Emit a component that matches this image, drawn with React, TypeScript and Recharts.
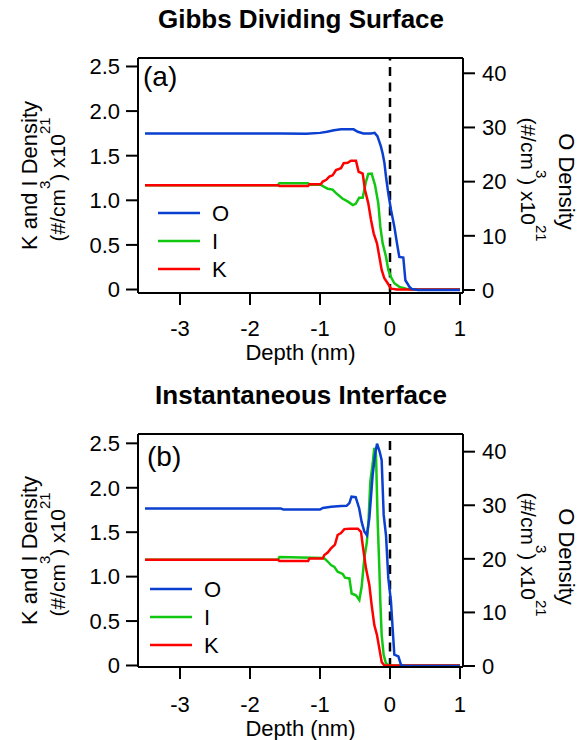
import React from 'react';
import { LineChart, Line, XAxis, YAxis, ReferenceLine, Legend } from 'recharts';

// (a) Gibbs dividing surface — O on right axis, I and K on left axis
const gibbsDepthO = [-3.5, -1.55, -1.2, -1.0, -0.9, -0.8, -0.7, -0.52, -0.46, -0.38, -0.27, -0.22, -0.18, -0.153, -0.13, -0.105, -0.08, -0.057, -0.024, 0.014, 0.062, 0.1, 0.133, 0.19, 0.22, 0.276, 0.31, 0.4, 1.0];
const gibbsO = [28.9, 28.9, 28.85, 29.0, 29.2, 29.5, 29.65, 29.65, 29.2, 28.9, 28.9, 29.0, 28.4, 27.4, 26.5, 25.2, 23.5, 20.9, 17.8, 14.8, 11.7, 8.6, 6.1, 6.0, 1.8, 0.6, 0.2, 0, 0];

const gibbsDepthI = [-3.5, -1.6, -1.58, -1.17, -1.15, -0.99, -0.94, -0.89, -0.82, -0.77, -0.68, -0.6, -0.53, -0.49, -0.44, -0.39, -0.343, -0.31, -0.262, -0.214, -0.167, -0.138, -0.105, -0.057, -0.024, 0.014, 0.062, 0.133, 0.23, 0.3, 1.0];
const gibbsI = [1.17, 1.17, 1.19, 1.19, 1.175, 1.175, 1.15, 1.13, 1.12, 1.08, 1.02, 0.985, 0.947, 0.96, 1.03, 1.03, 1.21, 1.295, 1.3, 1.17, 0.966, 0.704, 0.518, 0.368, 0.219, 0.14, 0.07, 0.03, 0.01, 0, 0];

const gibbsDepthK = [-3.5, -1.6, -1.58, -1.17, -1.15, -0.99, -0.96, -0.91, -0.867, -0.82, -0.771, -0.7, -0.662, -0.605, -0.557, -0.486, -0.448, -0.39, -0.357, -0.31, -0.271, -0.233, -0.186, -0.152, -0.119, -0.081, -0.033, 0.014, 0.1, 1.0];
const gibbsK = [1.17, 1.17, 1.16, 1.16, 1.18, 1.18, 1.21, 1.23, 1.265, 1.28, 1.34, 1.36, 1.415, 1.42, 1.444, 1.444, 1.32, 1.3, 1.115, 0.966, 0.78, 0.63, 0.518, 0.368, 0.219, 0.126, 0.07, 0.01, 0, 0];

// (b) instantaneous interface
const instDepthO = [-3.5, -1.56, -1.52, -1.0, -0.96, -0.84, -0.7, -0.62, -0.58, -0.55, -0.49, -0.44, -0.405, -0.367, -0.33, -0.295, -0.271, -0.248, -0.214, -0.185, -0.148, -0.119, -0.09, -0.057, -0.024, 0.014, 0.038, 0.062, 0.12, 0.157, 0.2, 1.0];
const instO = [29.4, 29.4, 29.2, 29.2, 29.5, 29.7, 29.85, 29.9, 30.4, 31.6, 31.5, 29.4, 26.9, 25.1, 24.4, 27.6, 31.6, 35.6, 39.4, 41.5, 40.0, 38.4, 28.2, 24.4, 16.4, 12.0, 7.0, 2.1, 1.8, 0.2, 0, 0];

const instDepthI = [-3.5, -1.6, -1.58, -0.96, -0.93, -0.89, -0.843, -0.795, -0.748, -0.676, -0.643, -0.58, -0.548, -0.486, -0.438, -0.405, -0.367, -0.33, -0.305, -0.281, -0.248, -0.224, -0.2, -0.176, -0.152, -0.138, -0.119, -0.09, -0.057, -0.02, 1.0];
const instI = [1.19, 1.19, 1.22, 1.21, 1.2, 1.17, 1.13, 1.11, 1.055, 1.03, 0.988, 0.98, 0.81, 0.79, 0.737, 0.886, 1.206, 1.39, 1.655, 2.07, 2.27, 2.45, 2.37, 1.62, 1.09, 0.72, 0.343, 0.118, 0.025, 0, 0];

const instDepthK = [-3.5, -1.6, -1.58, -1.17, -1.15, -0.96, -0.938, -0.89, -0.843, -0.786, -0.748, -0.7, -0.652, -0.58, -0.46, -0.414, -0.39, -0.343, -0.295, -0.262, -0.224, -0.186, -0.152, -0.119, -0.08, 1.0];
const instK = [1.19, 1.19, 1.175, 1.175, 1.205, 1.205, 1.243, 1.27, 1.318, 1.36, 1.468, 1.49, 1.535, 1.54, 1.54, 1.505, 1.355, 1.093, 0.905, 0.68, 0.455, 0.343, 0.19, 0.04, 0, 0];

const depthTicks = [-3, -2, -1, 0, 1];
const kiTicks = [0, 0.5, 1, 1.5, 2, 2.5];
const oTicks = [0, 10, 20, 30, 40];
const legendNames = ['O', 'I', 'K'];
const legendColors = ['#0a3fd0', '#11c811', '#ff0000'];

const FONT = '"Liberation Sans", Arial, Helvetica, sans-serif';
const W = 579;
const PLOT_TOP = 58;
const X_DOMAIN: [number, number] = [-3.6, 1.043];

const toPoints = (xs: number[], ys: number[]) => xs.map((x, i) => ({ depth: x, value: ys[i] }));

const axisStroke = { stroke: '#000', strokeWidth: 2 };

const LegendBox = () => (
  <svg width={100} height={90}>
    {legendNames.map((name, i) => (
      <g key={name}>
        <line x1={8} x2={50} y1={17 + i * 28} y2={17 + i * 28} stroke={legendColors[i]} strokeWidth={2.5} />
        <text x={62} y={17 + i * 28 + 8} fontSize={22} fill="#000" fontFamily={FONT}>{name}</text>
      </g>
    ))}
  </svg>
);

interface PanelProps {
  top: number;
  height: number;
  plotBottom: number;
  leftDomain: [number, number];
  rightDomain: [number, number];
  dataO: { depth: number; value: number }[];
  dataI: { depth: number; value: number }[];
  dataK: { depth: number; value: number }[];
  legendLeft: number;
  tickGap: number;
}

const DensityPanel: React.FC<PanelProps> = ({
  top, height, plotBottom, leftDomain, rightDomain, dataO, dataI, dataK, legendLeft, tickGap,
}) => {
  const mid = (PLOT_TOP + plotBottom) / 2;

  const leftLabel = () => (
    <g>
      <text x={37} y={mid} transform={`rotate(-90 37 ${mid})`} textAnchor="middle" fontSize={22} fill="#000">
        K and I Density
      </text>
      <text x={65} y={mid + 4} transform={`rotate(-90 65 ${mid + 4})`} textAnchor="middle" fontSize={21} fill="#000">
        (#/cm<tspan dy={-15} fontSize={15}>3</tspan><tspan dy={15}>) x10</tspan><tspan dy={-15} fontSize={15}>21</tspan>
      </text>
    </g>
  );

  const rightLabel = () => (
    <g>
      <text x={559} y={mid + 6} transform={`rotate(90 559 ${mid + 6})`} textAnchor="middle" fontSize={22} fill="#000">
        O Density
      </text>
      <text x={521} y={mid + 4} transform={`rotate(90 521 ${mid + 4})`} textAnchor="middle" fontSize={21} fill="#000">
        (#/cm<tspan dy={-15} fontSize={15}>3</tspan><tspan dy={15}>) x10</tspan><tspan dy={-15} fontSize={15}>21</tspan>
      </text>
    </g>
  );

  const depthLabel = () => (
    <text x={300.5} y={360} textAnchor="middle" fontSize={22} fill="#000">Depth (nm)</text>
  );

  return (
    <div style={{ position: 'absolute', left: 0, top }}>
      <LineChart
        width={W}
        height={height}
        margin={{ top: PLOT_TOP - 20, right: 46, bottom: height - plotBottom - 60, left: 68 }}
      >
        <XAxis
          dataKey="depth"
          type="number"
          domain={X_DOMAIN}
          ticks={depthTicks}
          allowDataOverflow
          height={60}
          tickSize={12}
          tickMargin={tickGap}
          axisLine={axisStroke}
          tickLine={axisStroke}
          tick={{ fill: '#000', fontSize: 22 }}
          label={{ content: depthLabel }}
        />
        <XAxis
          xAxisId="top"
          orientation="top"
          type="number"
          domain={X_DOMAIN}
          ticks={depthTicks}
          allowDataOverflow
          height={20}
          tickSize={12}
          axisLine={axisStroke}
          tickLine={axisStroke}
          tick={false}
        />
        <YAxis
          yAxisId="left"
          type="number"
          domain={leftDomain}
          ticks={kiTicks}
          allowDataOverflow
          width={70}
          tickSize={12}
          tickMargin={6}
          axisLine={axisStroke}
          tickLine={axisStroke}
          tick={{ fill: '#000', fontSize: 22 }}
          tickFormatter={(v: number) => (v === 0 ? '0' : v.toFixed(1))}
          label={{ content: leftLabel }}
        />
        <YAxis
          yAxisId="right"
          orientation="right"
          type="number"
          domain={rightDomain}
          ticks={oTicks}
          allowDataOverflow
          width={70}
          tickSize={12}
          tickMargin={7}
          axisLine={axisStroke}
          tickLine={axisStroke}
          tick={{ fill: '#000', fontSize: 22 }}
          label={{ content: rightLabel }}
        />
        <ReferenceLine x={0} yAxisId="left" stroke="#000" strokeWidth={2.5} strokeDasharray="9 6.5" />
        <Line data={dataI} dataKey="value" yAxisId="left" type="linear" stroke={legendColors[1]} strokeWidth={2.5} dot={false} activeDot={false} isAnimationActive={false} />
        <Line data={dataK} dataKey="value" yAxisId="left" type="linear" stroke={legendColors[2]} strokeWidth={2.5} dot={false} activeDot={false} isAnimationActive={false} />
        <Line data={dataO} dataKey="value" yAxisId="right" type="linear" stroke={legendColors[0]} strokeWidth={2.5} dot={false} activeDot={false} isAnimationActive={false} />
        <Legend
          layout="vertical"
          align="center"
          verticalAlign="middle"
          content={() => <LegendBox />}
          wrapperStyle={{ left: legendLeft, top: 196, width: 100, height: 90 }}
        />
      </LineChart>
    </div>
  );
};

export default function App() {
  return (
    <div style={{ position: 'absolute', left: 0, top: 0, width: W, height: 740, background: '#fff', fontFamily: FONT }}>
      <DensityPanel
        top={0}
        height={372}
        plotBottom={293}
        leftDomain={[-0.039, 2.595]}
        rightDomain={[-0.554, 42.82]}
        dataO={toPoints(gibbsDepthO, gibbsO)}
        dataI={toPoints(gibbsDepthI, gibbsI)}
        dataK={toPoints(gibbsDepthK, gibbsK)}
        legendLeft={150}
        tickGap={15}
      />
      <DensityPanel
        top={376}
        height={364}
        plotBottom={291}
        leftDomain={[-0.017, 2.605]}
        rightDomain={[-0.187, 43.3]}
        dataO={toPoints(instDepthO, instO)}
        dataI={toPoints(instDepthI, instI)}
        dataK={toPoints(instDepthK, instK)}
        legendLeft={142}
        tickGap={17}
      />
      <svg width={W} height={740} style={{ position: 'absolute', left: 0, top: 0, pointerEvents: 'none' }}>
        <text x={301} y={28} textAnchor="middle" fontSize={26} fontWeight="bold" fill="#000">Gibbs Dividing Surface</text>
        <text x={301} y={404} textAnchor="middle" fontSize={26} fontWeight="bold" fill="#000">Instantaneous Interface</text>
        <text x={143} y={86} fontSize={28} fill="#000">(a)</text>
        <text x={147} y={466} fontSize={28} fill="#000">(b)</text>
      </svg>
    </div>
  );
}
